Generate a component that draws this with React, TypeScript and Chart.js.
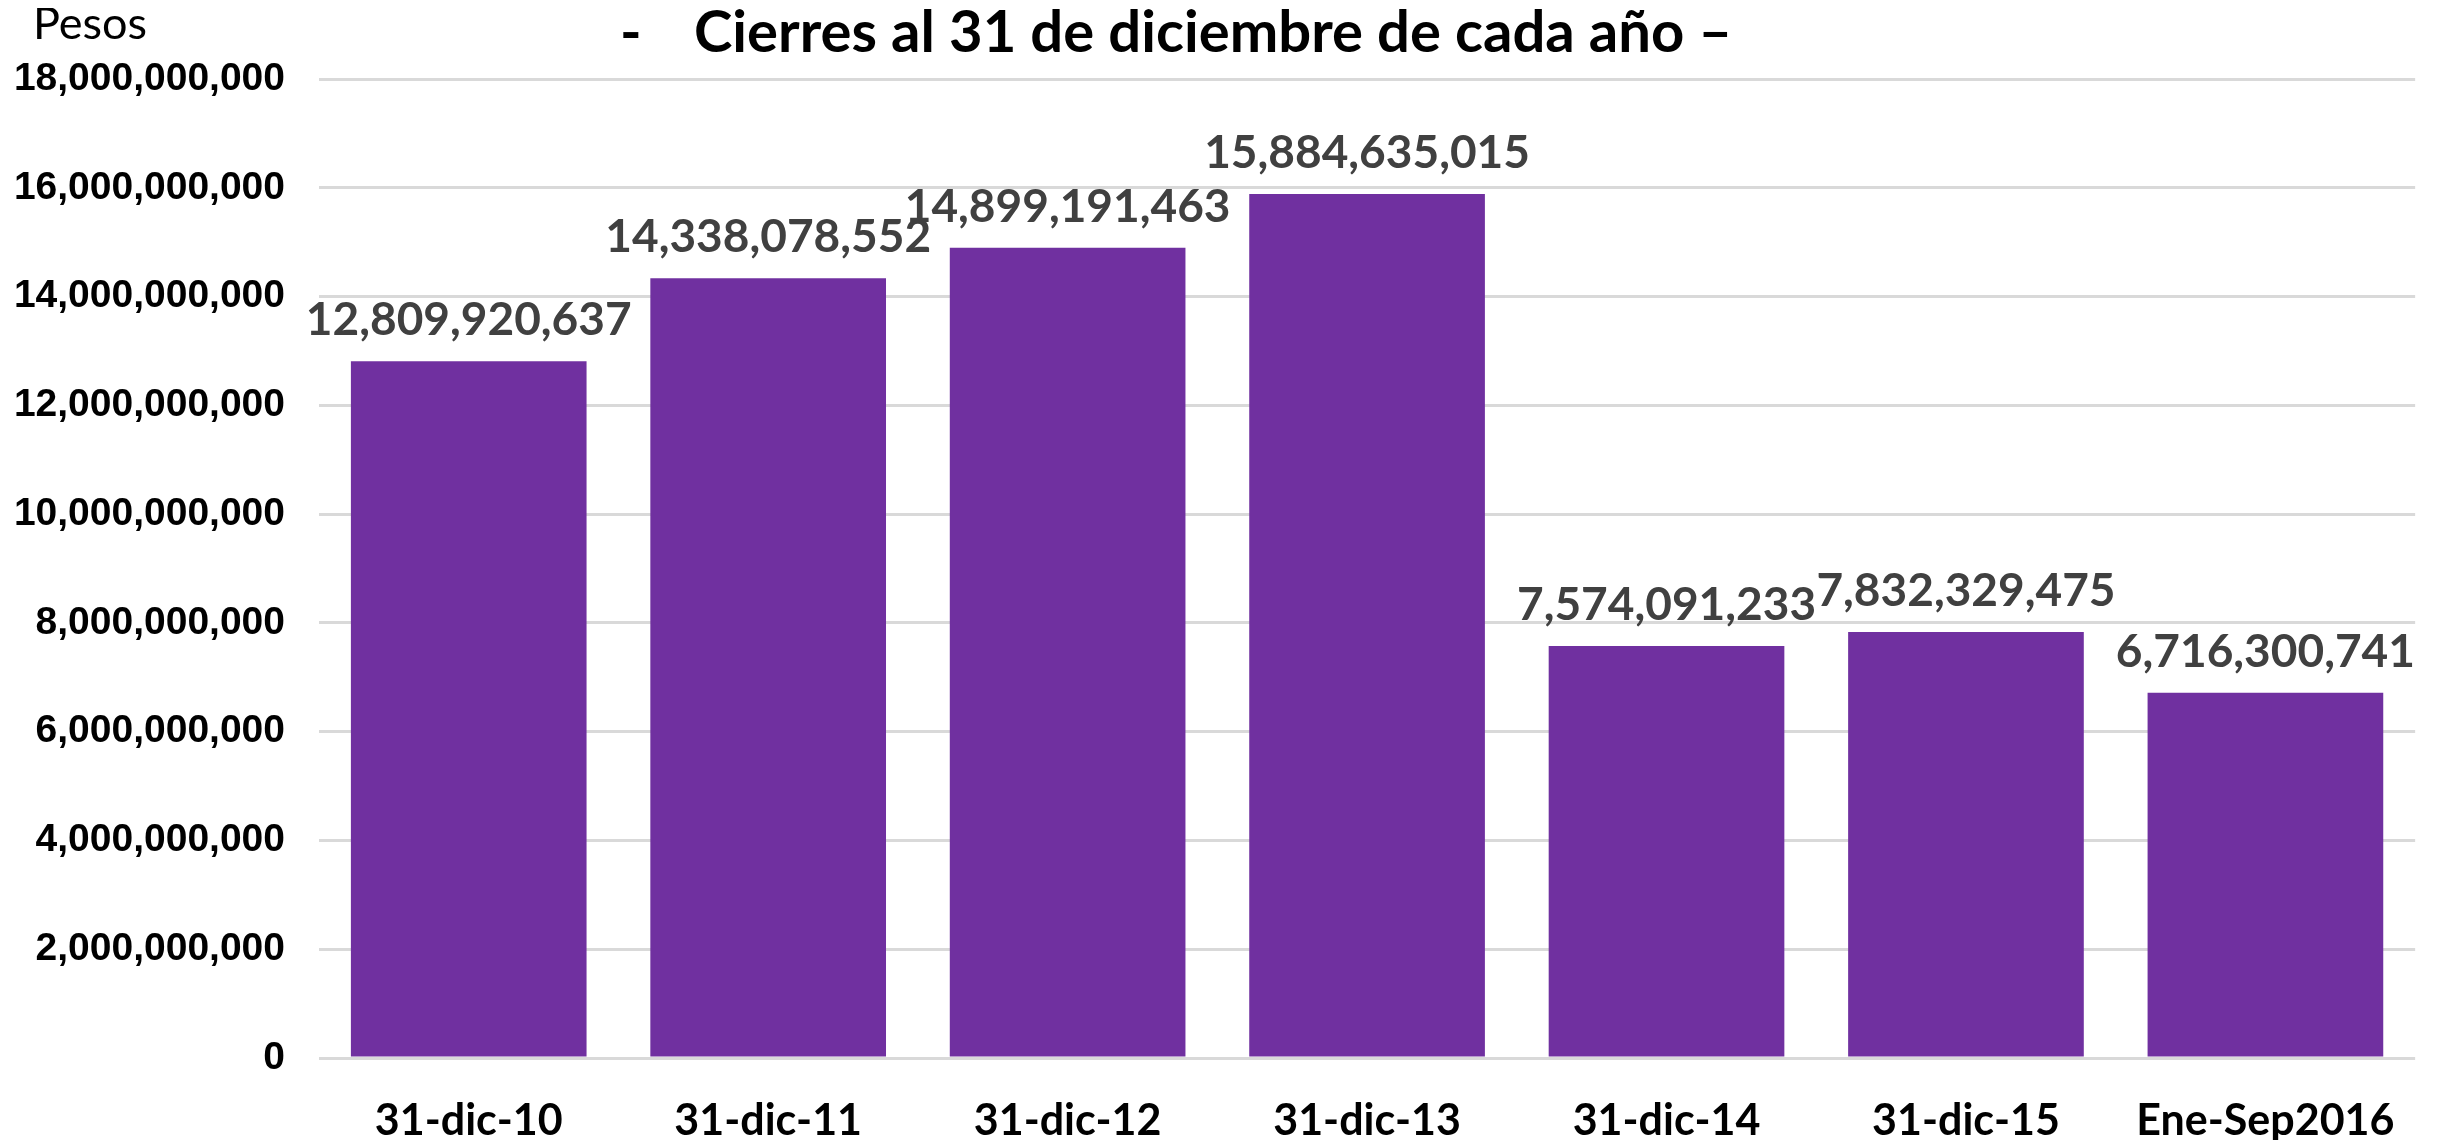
import React, { useEffect, useRef } from "react";
import { Chart, registerables } from "chart.js";

Chart.register(...registerables);

const categories = ["31-dic-10", "31-dic-11", "31-dic-12", "31-dic-13", "31-dic-14", "31-dic-15", "Ene-Sep2016"];
const values = [12809920637, 14338078552, 14899191463, 15884635015, 7574091233, 7832329475, 6716300741];
const yTicks = [0, 2000000000, 4000000000, 6000000000, 8000000000, 10000000000, 12000000000, 14000000000, 16000000000, 18000000000];
const titleDash = "-";
const titleText = "Cierres al 31 de diciembre de cada año –";
const unitLabel = "Pesos";

const LATO = "Lato, 'Open Sans', sans-serif";
const ARIAL = "'Liberation Sans', Arial, sans-serif";
const fmt = (v: number) => v.toLocaleString("en-US");

export default function App() {
  const ref = useRef<HTMLCanvasElement>(null);
  useEffect(() => {
    if (!ref.current) return;
    const overlay = {
      id: "overlay",
      afterDraw(chart: any) {
        const ctx = chart.ctx;
        ctx.save();
        ctx.fillStyle = "#000";
        ctx.textBaseline = "alphabetic";
        ctx.textAlign = "left";
        ctx.font = `normal 45px ${LATO}`;
        ctx.fillText(unitLabel, 25, 31);
        ctx.font = `bold 58px ${LATO}`;
        ctx.fillText(titleDash, 612, 44);
        ctx.fillText(titleText, 686, 44);
        const meta = chart.getDatasetMeta(0);
        ctx.font = `bold 46px ${LATO}`;
        ctx.fillStyle = "#404040";
        ctx.textAlign = "center";
        meta.data.forEach((bar: any, i: number) => {
          ctx.fillText(fmt(values[i]), bar.x, bar.y - 26);
        });
        ctx.restore();
      },
    };
    const chart = new Chart(ref.current, {
      type: "bar",
      data: {
        labels: categories,
        datasets: [
          {
            data: values,
            backgroundColor: "#7030A0",
            borderWidth: 0,
            barPercentage: 0.787,
            categoryPercentage: 1,
          },
        ],
      },
      options: {
        animation: false,
        responsive: false,
        maintainAspectRatio: false,
        layout: { padding: { top: 71, right: 7, left: 0, bottom: 0 } },
        plugins: { legend: { display: false }, tooltip: { enabled: false }, title: { display: false } },
        scales: {
          x: {
            grid: { display: false, drawTicks: false },
            border: { display: false },
            ticks: { color: "#000", font: { family: LATO, size: 43, weight: "bold" }, padding: 37, maxRotation: 0, autoSkip: false },
            afterFit: (s: any) => { s.height = 90; },
          },
          y: {
            min: 0,
            max: 18000000000,
            afterBuildTicks: (s: any) => { s.ticks = yTicks.map((v) => ({ value: v })); },
            grid: { color: "#d9d9d9", lineWidth: 3, drawTicks: false },
            border: { display: false },
            ticks: { color: "#000", font: { family: ARIAL, size: 39, weight: "bold" }, padding: 34, callback: (v: any) => fmt(Number(v)) },
            afterFit: (s: any) => { s.width = 311; },
          },
        },
      },
      plugins: [overlay],
    });
    return () => chart.destroy();
  }, []);
  return <canvas ref={ref} width={2424} height={1140} style={{ display: "block", marginBottom: -8 }} />;
}
